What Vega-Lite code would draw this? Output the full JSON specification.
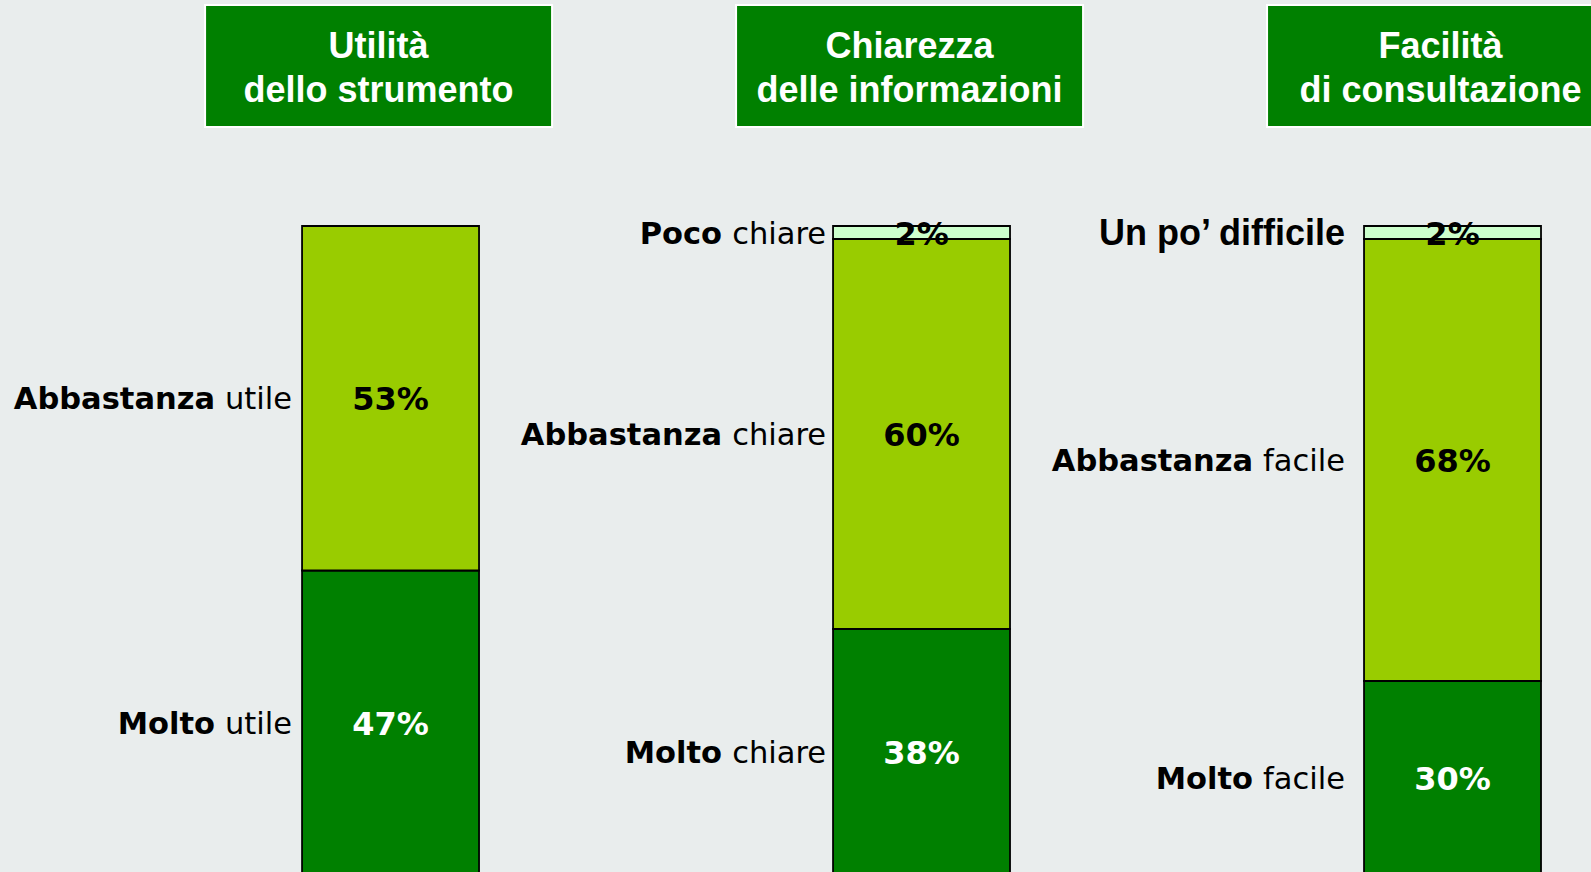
{
  "$schema": "https://vega.github.io/schema/vega-lite/v6.json",
  "width": 1591,
  "height": 872,
  "autosize": {"type": "none"},
  "padding": 0,
  "background": "#E9EDED",
  "config": {"view": {"stroke": null}},
  "datasets": {
    "heads": [
      {"q": "Utilità", "title": "Utilità\ndello strumento"},
      {"q": "Chiarezza", "title": "Chiarezza\ndelle informazioni"},
      {"q": "Facilità", "title": "Facilità\ndi consultazione"}
    ],
    "rows": [
      {"q": "Utilità", "order": 1, "level": "molto", "pct": 47, "bold": "Molto", "rest": "utile"},
      {"q": "Utilità", "order": 2, "level": "abbastanza", "pct": 53, "bold": "Abbastanza", "rest": "utile"},
      {"q": "Chiarezza", "order": 1, "level": "molto", "pct": 38, "bold": "Molto", "rest": "chiare"},
      {"q": "Chiarezza", "order": 2, "level": "abbastanza", "pct": 60, "bold": "Abbastanza", "rest": "chiare"},
      {"q": "Chiarezza", "order": 3, "level": "poco", "pct": 2, "bold": "Poco", "rest": "chiare"},
      {"q": "Facilità", "order": 1, "level": "molto", "pct": 30, "bold": "Molto", "rest": "facile"},
      {"q": "Facilità", "order": 2, "level": "abbastanza", "pct": 68, "bold": "Abbastanza", "rest": "facile"},
      {"q": "Facilità", "order": 3, "level": "poco", "pct": 2, "bold": "Un po’ difficile", "rest": ""}
    ]
  },
  "resolve": {"scale": {"x": "independent"}},
  "layer": [
    {
      "data": {"name": "heads"},
      "layer": [
        {
          "mark": {"type": "bar", "width": 347, "fill": "#008000", "stroke": "white", "strokeWidth": 2},
          "encoding": {
            "x": {"field": "q", "type": "nominal", "axis": null, "scale": {"domain": ["Utilità", "Chiarezza", "Facilità"], "paddingInner": 0.6667, "paddingOuter": 0.3315, "align": 0.824}},
            "y": {"datum": 115.23, "type": "quantitative", "axis": null, "scale": {"domain": [0.615, 134.77], "nice": false, "zero": false}},
            "y2": {"datum": 134.0}
          }
        },
        {
          "mark": {"type": "text", "font": "Liberation Sans", "fontWeight": "bold", "fontSize": 36, "lineHeight": 44, "lineBreak": "\n", "color": "white", "align": "center", "baseline": "middle"},
          "encoding": {
            "x": {"field": "q", "type": "nominal", "axis": null, "scale": {"domain": ["Utilità", "Chiarezza", "Facilità"], "paddingInner": 0.6667, "paddingOuter": 0.3315, "align": 0.824}},
            "y": {"datum": 127.54, "type": "quantitative", "axis": null, "scale": {"domain": [0.615, 134.77], "nice": false, "zero": false}},
            "text": {"field": "title", "type": "nominal"}
          }
        }
      ]
    },
    {
      "data": {"name": "rows"},
      "transform": [
        {"stack": "pct", "groupby": ["q"], "sort": [{"field": "order", "order": "ascending"}], "as": ["y0", "y1"]},
        {"calculate": "(datum.y0 + datum.y1) / 2", "as": "mid"},
        {"calculate": "datum.pct + '%'", "as": "plabel"}
      ],
      "layer": [
        {
          "mark": {"type": "bar", "stroke": "black", "strokeWidth": 1.8},
          "encoding": {
            "x": {"field": "q", "type": "nominal", "axis": null, "scale": {"domain": ["Utilità", "Chiarezza", "Facilità"], "paddingInner": 0.6667, "paddingOuter": 0.3315, "align": 0.858}},
            "y": {"field": "y0", "type": "quantitative", "axis": null, "scale": {"domain": [0.615, 134.77], "nice": false, "zero": false}},
            "y2": {"field": "y1"},
            "fill": {"field": "level", "type": "nominal", "legend": null, "scale": {"domain": ["molto", "abbastanza", "poco"], "range": ["#008000", "#99CC00", "#CCFFCC"]}}
          }
        },
        {
          "mark": {"type": "text", "font": "DejaVu Sans", "fontWeight": "bold", "fontSize": 32, "align": "center", "baseline": "middle", "dy": 2},
          "encoding": {
            "x": {"field": "q", "type": "nominal", "axis": null, "scale": {"domain": ["Utilità", "Chiarezza", "Facilità"], "paddingInner": 0.6667, "paddingOuter": 0.3315, "align": 0.858}},
            "y": {"field": "mid", "type": "quantitative", "axis": null, "scale": {"domain": [0.615, 134.77], "nice": false, "zero": false}},
            "text": {"field": "plabel", "type": "nominal"},
            "color": {"condition": {"test": "datum.order == 1", "value": "white"}, "value": "black"}
          }
        },
        {
          "transform": [{"filter": "datum.q == 'Utilità'"}],
          "mark": {"type": "text", "font": "DejaVu Sans", "fontWeight": "bold", "fontSize": 30.5, "align": "right", "baseline": "middle", "dx": -87, "dy": 2, "color": "black"},
          "encoding": {
            "x": {"field": "q", "type": "nominal", "bandPosition": 0, "axis": null, "scale": {"domain": ["Utilità", "Chiarezza", "Facilità"], "paddingInner": 0.6667, "paddingOuter": 0.3315, "align": 0.858}},
            "y": {"field": "mid", "type": "quantitative", "axis": null, "scale": {"domain": [0.615, 134.77], "nice": false, "zero": false}},
            "text": {"field": "bold", "type": "nominal"}
          }
        },
        {
          "transform": [{"filter": "datum.q == 'Utilità'"}],
          "mark": {"type": "text", "font": "DejaVu Sans", "fontWeight": "normal", "fontSize": 30.5, "align": "right", "baseline": "middle", "dx": -10, "dy": 2, "color": "black"},
          "encoding": {
            "x": {"field": "q", "type": "nominal", "bandPosition": 0, "axis": null, "scale": {"domain": ["Utilità", "Chiarezza", "Facilità"], "paddingInner": 0.6667, "paddingOuter": 0.3315, "align": 0.858}},
            "y": {"field": "mid", "type": "quantitative", "axis": null, "scale": {"domain": [0.615, 134.77], "nice": false, "zero": false}},
            "text": {"field": "rest", "type": "nominal"}
          }
        },
        {
          "transform": [{"filter": "datum.q == 'Chiarezza'"}],
          "mark": {"type": "text", "font": "DejaVu Sans", "fontWeight": "bold", "fontSize": 30.5, "align": "right", "baseline": "middle", "dx": -111, "dy": 2, "color": "black"},
          "encoding": {
            "x": {"field": "q", "type": "nominal", "bandPosition": 0, "axis": null, "scale": {"domain": ["Utilità", "Chiarezza", "Facilità"], "paddingInner": 0.6667, "paddingOuter": 0.3315, "align": 0.858}},
            "y": {"field": "mid", "type": "quantitative", "axis": null, "scale": {"domain": [0.615, 134.77], "nice": false, "zero": false}},
            "text": {"field": "bold", "type": "nominal"}
          }
        },
        {
          "transform": [{"filter": "datum.q == 'Chiarezza'"}],
          "mark": {"type": "text", "font": "DejaVu Sans", "fontWeight": "normal", "fontSize": 30.5, "align": "right", "baseline": "middle", "dx": -7, "dy": 2, "color": "black"},
          "encoding": {
            "x": {"field": "q", "type": "nominal", "bandPosition": 0, "axis": null, "scale": {"domain": ["Utilità", "Chiarezza", "Facilità"], "paddingInner": 0.6667, "paddingOuter": 0.3315, "align": 0.858}},
            "y": {"field": "mid", "type": "quantitative", "axis": null, "scale": {"domain": [0.615, 134.77], "nice": false, "zero": false}},
            "text": {"field": "rest", "type": "nominal"}
          }
        },
        {
          "transform": [{"filter": "datum.q == 'Facilità' && datum.rest != ''"}],
          "mark": {"type": "text", "font": "DejaVu Sans", "fontWeight": "bold", "fontSize": 30.5, "align": "right", "baseline": "middle", "dx": -111, "dy": 2, "color": "black"},
          "encoding": {
            "x": {"field": "q", "type": "nominal", "bandPosition": 0, "axis": null, "scale": {"domain": ["Utilità", "Chiarezza", "Facilità"], "paddingInner": 0.6667, "paddingOuter": 0.3315, "align": 0.858}},
            "y": {"field": "mid", "type": "quantitative", "axis": null, "scale": {"domain": [0.615, 134.77], "nice": false, "zero": false}},
            "text": {"field": "bold", "type": "nominal"}
          }
        },
        {
          "transform": [{"filter": "datum.q == 'Facilità' && datum.rest != ''"}],
          "mark": {"type": "text", "font": "DejaVu Sans", "fontWeight": "normal", "fontSize": 30.5, "align": "right", "baseline": "middle", "dx": -19, "dy": 2, "color": "black"},
          "encoding": {
            "x": {"field": "q", "type": "nominal", "bandPosition": 0, "axis": null, "scale": {"domain": ["Utilità", "Chiarezza", "Facilità"], "paddingInner": 0.6667, "paddingOuter": 0.3315, "align": 0.858}},
            "y": {"field": "mid", "type": "quantitative", "axis": null, "scale": {"domain": [0.615, 134.77], "nice": false, "zero": false}},
            "text": {"field": "rest", "type": "nominal"}
          }
        },
        {
          "transform": [{"filter": "datum.rest == ''"}],
          "mark": {"type": "text", "font": "Liberation Sans", "fontWeight": "bold", "fontSize": 36, "align": "right", "baseline": "middle", "dx": -19, "dy": 1, "color": "black"},
          "encoding": {
            "x": {"field": "q", "type": "nominal", "bandPosition": 0, "axis": null, "scale": {"domain": ["Utilità", "Chiarezza", "Facilità"], "paddingInner": 0.6667, "paddingOuter": 0.3315, "align": 0.858}},
            "y": {"field": "mid", "type": "quantitative", "axis": null, "scale": {"domain": [0.615, 134.77], "nice": false, "zero": false}},
            "text": {"field": "bold", "type": "nominal"}
          }
        }
      ]
    }
  ]
}
